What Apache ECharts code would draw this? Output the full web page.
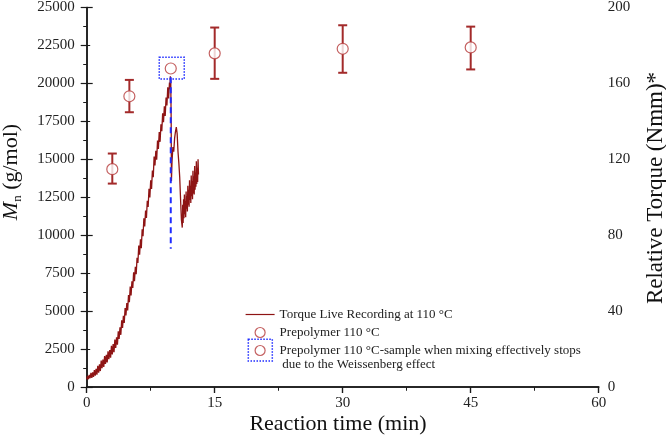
<!DOCTYPE html>
<html><head><meta charset="utf-8">
<script src="https://cdn.jsdelivr.net/npm/echarts@6/dist/echarts.min.js"></script>
<style>html,body{margin:0;padding:0;background:#fff}#c{width:666px;height:438px}</style>
</head><body><div id="c"></div>
<script>
// Torque live recording at 110 °C: [time (min), relative torque (Nmm)]
const torqueData = [
 [0.0,4.0],[0.1,5.8],[0.2,4.1],[0.3,6.4],[0.4,4.6],[0.5,7.4],[0.6,4.8],[0.7,7.7],[0.8,5.3],[0.9,8.9],
 [1.0,6.0],[1.1,9.6],[1.2,6.5],[1.3,11.2],[1.4,7.6],[1.5,12.0],[1.6,8.4],[1.7,13.9],[1.8,9.9],[1.9,14.5],
 [2.0,10.6],[2.1,16.3],[2.2,12.1],[2.3,16.9],[2.4,13.0],[2.5,18.8],[2.6,14.6],[2.7,19.5],[2.8,15.4],[2.9,21.7],
 [3.0,17.2],[3.1,22.6],[3.2,18.4],[3.3,25.0],[3.4,20.6],[3.5,26.2],[3.6,22.3],[3.7,29.4],[3.8,25.3],[3.9,31.4],
 [4.0,27.5],[4.1,35.1],[4.2,31.1],[4.3,37.5],[4.4,33.8],[4.5,41.6],[4.6,37.7],[4.7,44.2],[4.8,40.4],[4.9,48.5],
 [5.0,44.7],[5.1,52.9],[5.2,48.3],[5.3,55.7],[5.4,52.2],[5.5,60.4],[5.6,55.8],[5.7,63.4],[5.8,59.5],[5.9,68.1],
 [6.0,65.4],[6.1,74.6],[6.2,69.7],[6.3,77.8],[6.4,73.2],[6.5,83.1],[6.6,79.5],[6.7,88.9],[6.8,84.6],[6.9,93.0],
 [7.0,89.1],[7.1,98.1],[7.2,94.9],[7.3,104.5],[7.4,99.9],[7.5,108.9],[7.6,104.4],[7.7,114.1],[7.8,110.6],[7.9,121.4],
 [8.0,116.7],[8.1,124.5],[8.2,119.8],[8.3,129.9],[8.4,125.4],[8.5,134.4],[8.6,129.2],[8.7,138.5],[8.8,134.8],[8.9,144.2],
 [9.0,139.5],[9.1,147.9],[9.2,142.8],[9.3,152.5],[9.4,148.4],[9.5,158.0],[9.6,152.1],[9.7,160.5],[9.75,157.0],[9.8,163.8],
 [9.85,161.0],[9.9,140.0],[9.93,108.5],[10.0,119.0],[10.1,126.5],[10.2,124.0],[10.3,131.0],[10.4,134.5],[10.5,137.0],[10.6,133.5],
 [10.7,124.0],[10.8,118.0],[10.9,110.5],[11.0,99.0],[11.1,88.0],[11.2,84.0],[11.25,96.0],[11.3,86.5],[11.35,99.0],[11.4,89.0],
 [11.45,101.5],[11.5,91.0],[11.55,98.0],[11.6,89.5],[11.65,103.0],[11.7,94.0],[11.75,100.5],[11.8,92.5],[11.85,106.0],[11.9,96.0],
 [11.95,104.0],[12.0,95.0],[12.05,109.0],[12.1,98.5],[12.15,106.0],[12.2,97.0],[12.25,111.5],[12.3,100.5],[12.35,108.5],[12.4,99.0],
 [12.45,114.0],[12.5,102.0],[12.55,111.0],[12.6,101.5],[12.65,116.5],[12.7,104.0],[12.75,113.0],[12.8,105.5],[12.85,119.0],[12.9,107.0],
 [12.95,115.5],[13.0,108.0],[13.05,120.0],[13.1,112.0]
];

// Prepolymer 110 °C: Mn (g/mol) with error bars
const mnTimes   = [3, 5, 15, 30, 45];
const mnValues  = [14350, 19150, 21980, 22280, 22370];
const mnErrLow  = [13400, 18100, 20300, 20700, 20920];
const mnErrHigh = [15380, 20230, 23680, 23830, 23740];

// Sample taken when mixing effectively stops (Weissenberg effect)
const stopTimes  = [9.85];
const stopValues = [20980];

// Blue dashed marker line
const dashTimes  = [9.85, 9.85];
const dashValues = [20400, 9100];

// Axis ranges / tick steps
const xRange = [0, 60], xStep = 15;
const mnRange = [0, 25000], mnStep = 2500;
const tqRange = [0, 200], tqStep = 40;

const legendNames = [
  'Torque Live Recording at 110 °C',
  'Prepolymer 110 °C',
  'Prepolymer 110 °C-sample when mixing effectively stops'
];
const legendLine2 = ' due to the Weissenberg effect';

const serif = 'Liberation Serif';
const lineRed = '#8e1414';
const markRed = '#b53a3a';
const errRed = '#a32a2a';
const blue = '#1f2cff';

const chart = echarts.init(document.getElementById('c'), null, {renderer: 'canvas'});

const tickStyle = {color: '#1a1a1a', width: 1.2};
const minorStyle = {color: '#1a1a1a', width: 1};
const plain = v => String(v);

chart.setOption({
  animation: false,
  backgroundColor: '#fff',
  grid: {left: 86.7, right: 67.3, top: 5.5, bottom: 51, containLabel: false},
  xAxis: [
    {
      type: 'value', position: 'bottom', min: xRange[0], max: xRange[1], interval: xStep,
      axisLine: {show: true, lineStyle: {color: '#1a1a1a', width: 1.5}}, splitLine: {show: false},
      axisTick: {show: true, inside: false, length: 6, lineStyle: tickStyle},
      minorTick: {show: true, splitNumber: 2, length: 3.5, lineStyle: minorStyle},
      axisLabel: {fontFamily: serif, fontSize: 15, color: '#222', margin: 9, formatter: plain}
    },
    {
      type: 'value', position: 'top', min: xRange[0], max: xRange[1], interval: xStep,
      axisLine: {show: true, lineStyle: {color: '#1a1a1a', width: 1.5}}, splitLine: {show: false},
      axisTick: {show: true, inside: true, length: 6, lineStyle: tickStyle},
      minorTick: {show: true, splitNumber: 2, length: 3.5, lineStyle: minorStyle},
      axisLabel: {show: false}
    }
  ],
  yAxis: [
    {
      type: 'value', position: 'left', min: mnRange[0], max: mnRange[1], interval: mnStep,
      axisLine: {show: true, lineStyle: {color: '#1a1a1a', width: 1.5}}, splitLine: {show: false},
      axisTick: {show: true, inside: false, length: 6, lineStyle: tickStyle},
      minorTick: {show: true, splitNumber: 2, length: 3.5, lineStyle: minorStyle},
      axisLabel: {fontFamily: serif, fontSize: 15, color: '#222', margin: 12, formatter: plain}
    },
    {
      type: 'value', position: 'right', min: tqRange[0], max: tqRange[1], interval: tqStep,
      axisLine: {show: true, lineStyle: {color: '#1a1a1a', width: 1.5}}, splitLine: {show: false},
      axisTick: {show: true, inside: false, length: 6, lineStyle: tickStyle},
      minorTick: {show: true, splitNumber: 2, length: 3.5, lineStyle: minorStyle},
      axisLabel: {fontFamily: serif, fontSize: 15, color: '#222', margin: 9, formatter: plain}
    }
  ],
  legend: {
    orient: 'vertical', left: 245, top: 308, padding: 0,
    itemWidth: 29, itemHeight: 10, itemGap: 5, itemTextGap: 5,
    selectedMode: false,
    textStyle: {fontFamily: serif, fontSize: 13, color: '#222'},
    data: [
      {name: legendNames[0], itemStyle: {color: 'rgba(0,0,0,0)', borderColor: 'rgba(0,0,0,0)', borderWidth: 0},
        lineStyle: {color: lineRed, width: 1.2}},
      {name: legendNames[1], icon: 'circle', itemStyle: {color: '#fff', borderColor: markRed, borderWidth: 1.2}},
      {name: legendNames[2], icon: 'circle', itemStyle: {color: '#fff', borderColor: markRed, borderWidth: 1.2}}
    ]
  },
  series: [
    {
      name: legendNames[0], type: 'line', xAxisIndex: 0, yAxisIndex: 1,
      data: torqueData, symbol: 'none', smooth: false,
      lineStyle: {color: lineRed, width: 1.3}, itemStyle: {color: lineRed}, z: 2
    },
    {
      name: 'dashed', type: 'line', xAxisIndex: 0, yAxisIndex: 0,
      data: dashTimes.map((t, i) => [t, dashValues[i]]), symbol: 'none',
      lineStyle: {color: blue, width: 2, type: [6, 4]}, z: 3
    },
    {
      name: 'errorbars', type: 'custom', xAxisIndex: 0, yAxisIndex: 0,
      data: mnTimes.map((t, i) => [t, mnErrLow[i], mnErrHigh[i]]),
      encode: {x: 0, y: [1, 2]},
      renderItem: function (params, api) {
        const x = api.value(0);
        const pHi = api.coord([x, api.value(2)]);
        const pLo = api.coord([x, api.value(1)]);
        const hw = 4.5;
        const st = {stroke: errRed, lineWidth: 2};
        return {type: 'group', children: [
          {type: 'line', shape: {x1: pHi[0], y1: pHi[1], x2: pLo[0], y2: pLo[1]}, style: st},
          {type: 'line', shape: {x1: pHi[0] - hw, y1: pHi[1], x2: pHi[0] + hw, y2: pHi[1]}, style: st},
          {type: 'line', shape: {x1: pLo[0] - hw, y1: pLo[1], x2: pLo[0] + hw, y2: pLo[1]}, style: st}
        ]};
      },
      z: 4
    },
    {
      name: legendNames[1], type: 'scatter', xAxisIndex: 0, yAxisIndex: 0,
      data: mnTimes.map((t, i) => [t, mnValues[i]]),
      symbol: 'circle', symbolSize: 11,
      itemStyle: {color: '#fff', borderColor: markRed, borderWidth: 1.2}, z: 5
    },
    {
      name: legendNames[2], type: 'scatter', xAxisIndex: 0, yAxisIndex: 0,
      data: stopTimes.map((t, i) => [t, stopValues[i]]),
      symbol: 'circle', symbolSize: 11,
      itemStyle: {color: '#fff', borderColor: markRed, borderWidth: 1.2}, z: 5
    },
    {
      name: 'stopbox', type: 'custom', xAxisIndex: 0, yAxisIndex: 0,
      data: stopTimes.map((t, i) => [t, stopValues[i]]),
      renderItem: function (params, api) {
        const p = api.coord([api.value(0), api.value(1)]);
        return {type: 'rect', shape: {x: p[0] - 11.5, y: p[1] - 11.2, width: 25, height: 21.7},
          style: {fill: 'none', stroke: blue, lineWidth: 1.5, lineDash: [1.5, 1.5]}};
      },
      z: 6
    }
  ],
  graphic: [
    {type: 'text', x: 338, y: 424, style: {text: 'Reaction time (min)', font: '22px "Liberation Serif"', fill: '#111', align: 'center', verticalAlign: 'middle'}},
    {type: 'text', x: 11, y: 172, rotation: Math.PI / 2,
      style: {text: '{m|M}{s|n} (g/mol)', fill: '#111', align: 'center', verticalAlign: 'middle',
        rich: {
          m: {fontFamily: serif, fontStyle: 'italic', fontSize: 22, fill: '#111'},
          s: {fontFamily: serif, fontSize: 13, fill: '#111', verticalAlign: 'bottom', lineHeight: 26}
        },
        fontFamily: serif, fontSize: 22}},
    {type: 'text', x: 656, y: 188, rotation: Math.PI / 2,
      style: {text: 'Relative Torque (Nmm)*', font: '23px "Liberation Serif"', fill: '#111', align: 'center', verticalAlign: 'middle'}},
    {type: 'text', x: 279, y: 365, style: {text: legendLine2, font: '13px "Liberation Serif"', fill: '#222', align: 'left', verticalAlign: 'middle'}},
    {type: 'rect', shape: {x: 248.3, y: 339.3, width: 24, height: 21.7},
      style: {fill: 'none', stroke: blue, lineWidth: 1.5, lineDash: [1.5, 1.5]}, z: 10}
  ]
});
</script>
</body></html>
